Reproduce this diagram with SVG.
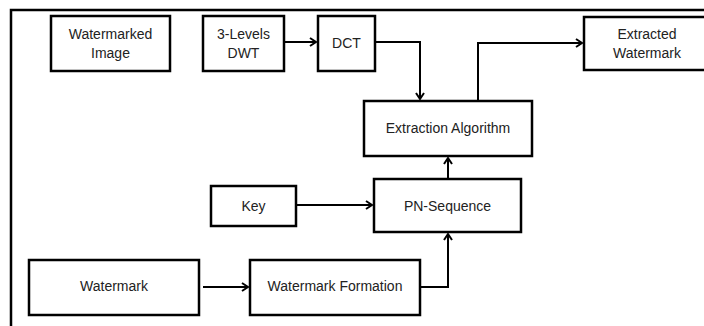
<svg xmlns="http://www.w3.org/2000/svg" width="704" height="326" viewBox="0 0 704 326">
<style>
.box{fill:#fff;stroke:#000;stroke-width:2.5}
.t{font-family:"Liberation Sans",Arial,sans-serif;font-size:14px;fill:#222;text-anchor:middle}
.c{fill:none;stroke:#000;stroke-width:2}
</style>
<defs>
<marker id="ah" markerWidth="10" markerHeight="10" refX="8" refY="5" orient="auto" markerUnits="userSpaceOnUse">
<polyline points="2,1 8,5 2,9" fill="none" stroke="#000" stroke-width="2"/>
</marker>
</defs>
<rect width="704" height="326" fill="#fff"/>
<rect x="11" y="10" width="720" height="340" fill="none" stroke="#000" stroke-width="2.5"/>
<g id="connectors">
<polyline class="c" points="284,42 316,42" marker-end="url(#ah)"/>
<polyline class="c" points="375,42 420,42 420,99" marker-end="url(#ah)"/>
<polyline class="c" points="478,101 478,43 582,43" marker-end="url(#ah)"/>
<polyline class="c" points="296,205 372,205" marker-end="url(#ah)"/>
<polyline class="c" points="448,179 448,158" marker-end="url(#ah)"/>
<polyline class="c" points="203,287 248,287" marker-end="url(#ah)"/>
<polyline class="c" points="420,287 448,287 448,234" marker-end="url(#ah)"/>
</g>
<g id="watermarked-image"><rect class="box" x="51" y="16" width="119" height="55"/><text class="t" x="110.5" y="39">Watermarked</text><text class="t" x="110.5" y="58">Image</text></g>
<g id="dwt"><rect class="box" x="203" y="16" width="81" height="55"/><text class="t" x="243.5" y="39">3-Levels</text><text class="t" x="243.5" y="58">DWT</text></g>
<g id="dct"><rect class="box" x="318" y="16" width="57" height="55"/><text class="t" x="346.5" y="48">DCT</text></g>
<g id="extracted-watermark"><rect class="box" x="584" y="17" width="130" height="53"/><text class="t" x="647" y="39">Extracted</text><text class="t" x="647" y="58">Watermark</text></g>
<g id="extraction-algorithm"><rect class="box" x="364" y="101" width="168" height="55"/><text class="t" x="448" y="133">Extraction Algorithm</text></g>
<g id="key"><rect class="box" x="211" y="186" width="85" height="40"/><text class="t" x="253.5" y="211">Key</text></g>
<g id="pn-sequence"><rect class="box" x="374" y="179" width="147" height="53"/><text class="t" x="447.5" y="211">PN-Sequence</text></g>
<g id="watermark"><rect class="box" x="29" y="260" width="170" height="55"/><text class="t" x="114" y="291">Watermark</text></g>
<g id="watermark-formation"><rect class="box" x="250" y="260" width="170" height="55"/><text class="t" x="335" y="291">Watermark Formation</text></g>
</svg>
